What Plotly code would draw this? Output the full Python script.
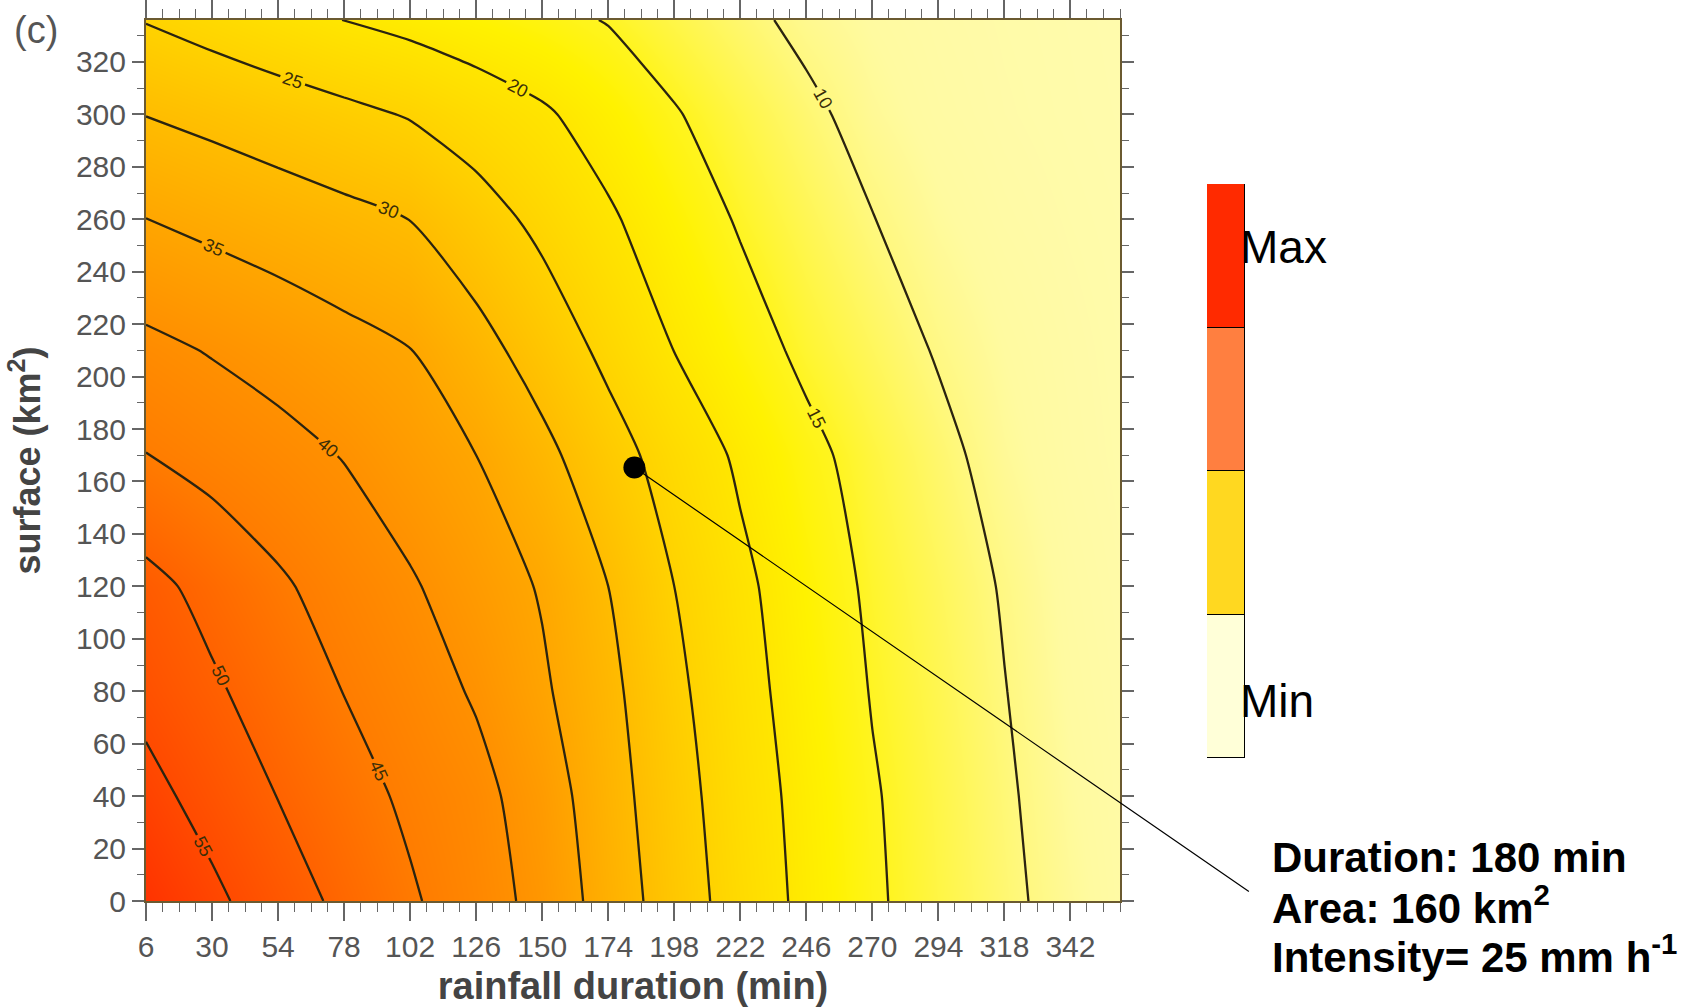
import plotly.graph_objects as go

# ---------------- data ----------------
durations = [6, 30, 54, 78, 102, 126, 150, 174, 198, 222, 246, 270, 294, 318, 342, 360]   # min
surfaces = [0, 40, 80, 120, 170, 210, 260, 300, 336]                                       # km2

# rainfall intensity (mm/h), one row per surface value
intensity_s0   = [59.5, 56.0, 52.4, 48.9, 45.6, 42.3, 38.5, 32.85, 27.5, 22.9, 18.9, 15.6, 13.1, 10.8, 8.6, 7.2]
intensity_s40  = [56.5, 53.2, 49.9, 47.0, 44.1, 41.5, 37.5, 32.0, 26.9, 22.3, 18.6, 15.35, 12.9, 10.5, 8.2, 7.0]
intensity_s80  = [53.6, 50.7, 47.8, 44.9, 42.3, 39.5, 35.7, 31.2, 26.05, 21.65, 18.0, 14.8, 12.5, 10.1, 7.8, 6.8]
intensity_s120 = [51.4, 48.5, 45.7, 43.0, 40.5, 37.6, 34.6, 30.0, 25.0, 21.0, 17.4, 14.3, 12.0, 9.7, 7.5, 6.6]
intensity_s170 = [45.1, 43.3, 41.6, 39.8, 37.4, 35.0, 31.25, 26.95, 22.9, 19.3, 16.1, 13.4, 11.0, 8.6, 7.0, 6.3]
intensity_s210 = [41.2, 39.7, 38.2, 36.6, 35.1, 31.7, 27.9, 23.9, 19.95, 16.9, 14.1, 11.9, 9.7, 8.0, 6.8, 6.2]
intensity_s260 = [35.05, 33.75, 32.5, 31.25, 29.95, 27.0, 23.85, 20.6, 17.5, 14.6, 12.3, 10.1, 8.3, 7.1, 6.4, 6.0]
intensity_s300 = [29.9, 28.7, 27.4, 26.1, 24.7, 22.6, 20.6, 18.0, 15.3, 13.0, 10.8, 8.7, 7.4, 6.6, 6.1, 5.8]
intensity_s336 = [24.8, 23.2, 21.6, 19.95, 18.7, 17.4, 16.2, 14.8, 12.9, 10.95, 9.1, 7.9, 7.0, 6.4, 6.0, 5.7]

contour_start, contour_end, contour_step = 10, 55, 5

point_duration = [183.5]
point_surface = [165.3]

legend_labels = ["Min", "", "", "Max"]               # bottom to top
legend_colors = ["#FFFFD8", "#FFD820", "#FF7F40", "#FF2A00"]

callout_lines = ["Duration: 180 min", "Area: 160 km<sup>2</sup>", "Intensity= 25 mm h<sup>-1</sup>"]

# ---------------- figure ----------------
intensity = [intensity_s0, intensity_s40, intensity_s80, intensity_s120, intensity_s170,
             intensity_s210, intensity_s260, intensity_s300, intensity_s336]

zmin, zmax = 5, 60
stops = [(5, "#FFFBB0"), (8, "#FFFAA0"), (10, "#FFF880"), (12.5, "#FFF650"), (15, "#FFF420"),
         (17.5, "#FFF200"), (20, "#FFE600"), (25, "#FFD200"), (30, "#FFBC00"), (35, "#FFA600"),
         (40, "#FF9000"), (45, "#FF7C00"), (50, "#FF6200"), (55, "#FF4A00"), (60, "#FF3000")]
colorscale = [[(v - zmin) / (zmax - zmin), c] for v, c in stops]

FONT = "Liberation Sans, Arial, sans-serif"

fig = go.Figure()
fig.add_trace(go.Contour(
    x=durations, y=surfaces, z=intensity,
    zmin=zmin, zmax=zmax, colorscale=colorscale, showscale=False,
    contours=dict(start=contour_start, end=contour_end, size=contour_step,
                  coloring="heatmap", showlabels=True,
                  labelfont=dict(family=FONT, size=18, color="#3a2e08")),
    line=dict(color="#2b2410", width=2.3, smoothing=0.6),
    hoverinfo="skip",
))

fig.add_trace(go.Scatter(
    x=point_duration, y=point_surface, mode="markers",
    marker=dict(size=22, color="black"), showlegend=False, hoverinfo="skip",
))

for lab, col in zip(legend_labels, legend_colors):
    fig.add_trace(go.Bar(
        x=[0], y=[1], width=1, marker=dict(color=col, line=dict(color="black", width=1)),
        xaxis="x2", yaxis="y2", showlegend=False, hoverinfo="skip", name=lab or col,
    ))

W, H = 1697, 1008
ml, mr, mt, mb = 146, 20, 20, 107
pw, ph = W - ml - mr, H - mt - mb

def px2paper_x(px):
    return (px - ml) / pw

def px2paper_y(py):
    return (H - mb - py) / ph

fig.update_layout(
    width=W, height=H,
    margin=dict(l=ml, r=mr, t=mt, b=mb, autoexpand=False),
    paper_bgcolor="white", plot_bgcolor="#FFFAD0",
    barmode="stack", bargap=0,
    font=dict(family=FONT, color="#555555"),
    xaxis=dict(
        domain=[0, px2paper_x(1120)], range=[6, 360], automargin=False,
        tick0=6, dtick=24, ticks="outside", ticklen=18, tickwidth=1.5, tickcolor="#666",
        minor=dict(tick0=6, dtick=6, ticks="outside", ticklen=9, tickcolor="#666", tickwidth=1),
        showline=True, linecolor="#6b5a30", linewidth=2, mirror="allticks",
        showgrid=False, zeroline=False,
        tickfont=dict(size=30, color="#555555"),
        title=dict(text="<b>rainfall duration (min)</b>", font=dict(size=38, color="#444444"), standoff=10),
    ),
    yaxis=dict(
        domain=[0, 1], range=[0, 336], automargin=False,
        tick0=0, dtick=20, ticks="outside", ticklen=12, tickwidth=1.5, tickcolor="#666",
        minor=dict(tick0=0, dtick=10, ticks="outside", ticklen=7, tickcolor="#666", tickwidth=1),
        showline=True, linecolor="#6b5a30", linewidth=2, mirror="allticks",
        showgrid=False, zeroline=False,
        tickfont=dict(size=30, color="#555555"),
        title=dict(text="<b>surface (km<sup>2</sup>)</b>", font=dict(size=36, color="#444444"), standoff=24),
    ),
    xaxis2=dict(domain=[px2paper_x(1207), px2paper_x(1245)], range=[-0.5, 0.5], anchor="y2",
                visible=False, fixedrange=True, automargin=False),
    yaxis2=dict(domain=[px2paper_y(758), px2paper_y(184)], range=[0, 4], anchor="x2", side="right",
                tickmode="array", tickvals=[0.4, 3.56], ticktext=["Min", "Max"], automargin=False,
                ticks="", showline=False, showgrid=False, zeroline=False,
                tickfont=dict(size=46, color="black"), ticklabelstandoff=-6),
)

# panel tag
fig.add_annotation(text="(c)", xref="paper", yref="paper", x=px2paper_x(36), y=px2paper_y(30),
                   xanchor="center", yanchor="middle",
                   showarrow=False, font=dict(size=38, color="#555555"))

# callout line from the point
fig.add_annotation(x=point_duration[0], y=point_surface[0], xref="x", yref="y", text="",
                   showarrow=True, arrowhead=0, arrowwidth=1.2, arrowcolor="black",
                   ax=616, ay=425, standoff=0)

for txt, py in zip(callout_lines, [857, 905, 954]):
    fig.add_annotation(text="<b>" + txt + "</b>", xref="paper", yref="paper",
                       x=px2paper_x(1270), y=px2paper_y(py), xanchor="left", yanchor="middle",
                       showarrow=False, font=dict(size=42, color="black"))

fig.write_html("out.html")
